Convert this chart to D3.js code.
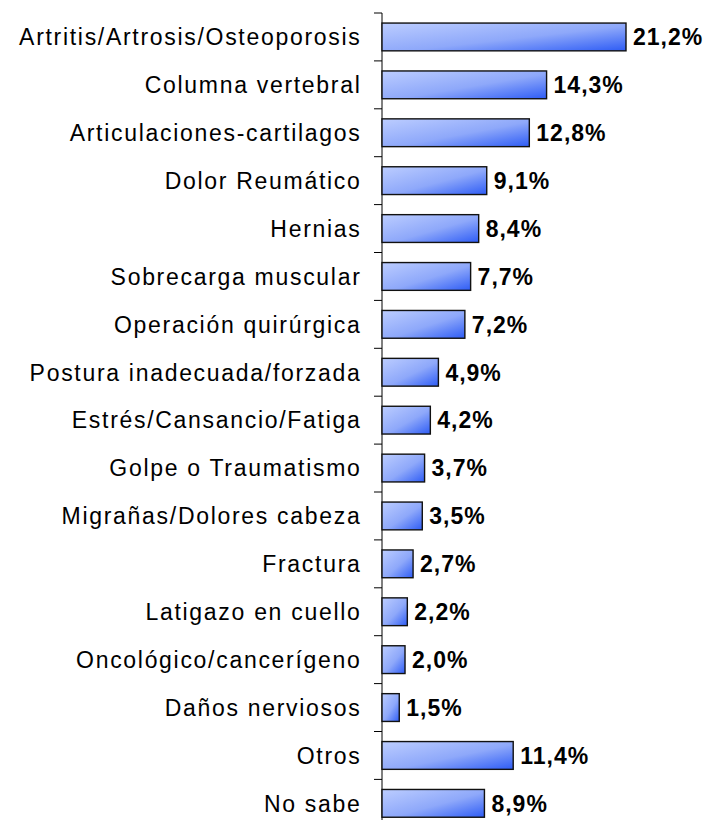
<!DOCTYPE html>
<html>
<head>
<meta charset="utf-8">
<script src="https://cdn.jsdelivr.net/npm/d3@7"></script>
<style>
  body { margin: 0; background: #fff; }
  svg { display: block; }
</style>
</head>
<body>
<div id="chart"></div>
<script>
const SVG_WIDTH = 704;
const SVG_HEIGHT = 820;
const MARGIN = { top: 13, left: 382 };
const STEP = 47.9;

const categories = [
    "Artritis/Artrosis/Osteoporosis",
    "Columna vertebral",
    "Articulaciones-cartilagos",
    "Dolor Reumático",
    "Hernias",
    "Sobrecarga muscular",
    "Operación quirúrgica",
    "Postura inadecuada/forzada",
    "Estrés/Cansancio/Fatiga",
    "Golpe o Traumatismo",
    "Migrañas/Dolores cabeza",
    "Fractura",
    "Latigazo en cuello",
    "Oncológico/cancerígeno",
    "Daños nerviosos",
    "Otros",
    "No sabe"
];
const values = [21.2, 14.3, 12.8, 9.1, 8.4, 7.7, 7.2, 4.9, 4.2, 3.7, 3.5, 2.7, 2.2, 2.0, 1.5, 11.4, 8.9];

const fmt = v => d3.format(".1f")(v).replace(".", ",") + "%";

const svg = d3.select("#chart").append("svg")
    .attr("width", SVG_WIDTH)
    .attr("height", SVG_HEIGHT);

const defs = svg.append("defs");
const grad = defs.append("linearGradient")
    .attr("id", "barGrad")
    .attr("x1", "0").attr("y1", "0")
    .attr("x2", "1").attr("y2", "1");
grad.append("stop").attr("offset", "0%").attr("stop-color", "#bccdff");
grad.append("stop").attr("offset", "55%").attr("stop-color", "#8ea8fa");
grad.append("stop").attr("offset", "100%").attr("stop-color", "#2e5cf5");

const y = d3.scaleBand()
    .domain(categories)
    .range([MARGIN.top, MARGIN.top + STEP * categories.length])
    .paddingInner(0.42)
    .paddingOuter(0.21);

const x = d3.scaleLinear()
    .domain([0, 21.2])
    .range([MARGIN.left, MARGIN.left + 244]);

// ticks between categories, drawn on the left of the axis line
const tickPos = d3.range(categories.length + 1).map(i => MARGIN.top + i * STEP);
svg.append("g").selectAll("line")
    .data(tickPos)
    .join("line")
    .attr("x1", MARGIN.left - 8)
    .attr("x2", MARGIN.left)
    .attr("y1", d => d)
    .attr("y2", d => d)
    .attr("stroke", "#000");

svg.append("line")
    .attr("x1", MARGIN.left).attr("x2", MARGIN.left)
    .attr("y1", MARGIN.top).attr("y2", SVG_HEIGHT)
    .attr("stroke", "#000");

// bars
svg.append("g").selectAll("rect")
    .data(values)
    .join("rect")
    .attr("x", x(0))
    .attr("y", (d, i) => y(categories[i]))
    .attr("width", d => x(d) - x(0))
    .attr("height", y.bandwidth())
    .attr("fill", "url(#barGrad)")
    .attr("stroke", "#111")
    .attr("stroke-width", 1.4);

// category labels
svg.append("g").selectAll("text")
    .data(categories)
    .join("text")
    .attr("x", 361.5)
    .attr("y", d => y(d) + y.bandwidth() / 2)
    .attr("dy", "0.36em")
    .attr("text-anchor", "end")
    .attr("font-family", "Liberation Sans, Arial, sans-serif")
    .attr("font-size", 23)
    .attr("letter-spacing", 1.7)
    .attr("fill", "#000")
    .text(d => d);

// value labels
svg.append("g").selectAll("text")
    .data(values)
    .join("text")
    .attr("x", d => x(d) + 7)
    .attr("y", (d, i) => y(categories[i]) + y.bandwidth() / 2)
    .attr("dy", "0.36em")
    .attr("font-family", "Liberation Sans, Arial, sans-serif")
    .attr("font-size", 23)
    .attr("font-weight", "bold")
    .attr("letter-spacing", 1)
    .attr("fill", "#000")
    .text(fmt);
</script>
</body>
</html>
